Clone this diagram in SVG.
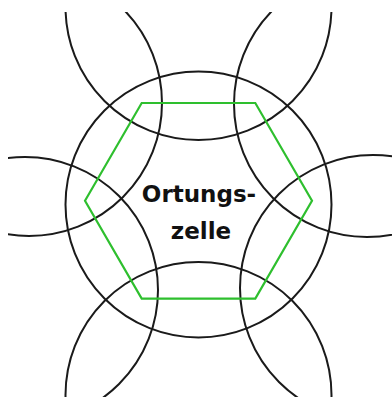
<svg xmlns="http://www.w3.org/2000/svg" width="392" height="397" viewBox="0 0 392 397">
  <defs>
    <clipPath id="frame"><rect x="8" y="12" width="384" height="385"/></clipPath>
    <style>
      .cell { fill: none; stroke: #1a1a1a; stroke-width: 2; }
      .hex { fill: none; stroke: #2ebf2e; stroke-width: 2.2; stroke-linejoin: miter; }
      .lbl { font-family: "DejaVu Sans", "Liberation Sans", sans-serif; font-weight: bold; font-size: 23px; fill: #111; text-anchor: middle; }
    </style>
  </defs>
  <rect width="392" height="397" fill="#fff"/>
  <g id="circles" clip-path="url(#frame)">
    <circle id="c-top" class="cell" cx="198.5" cy="7" r="133"/>
    <circle id="c-upper-left" class="cell" cx="29" cy="103" r="133"/>
    <circle id="c-upper-right" class="cell" cx="367" cy="104" r="133"/>
    <circle id="c-lower-left" class="cell" cx="25" cy="290" r="133"/>
    <circle id="c-lower-right" class="cell" cx="373" cy="288" r="133"/>
    <circle id="c-bottom" class="cell" cx="198.5" cy="395" r="133"/>
    <circle id="c-center" class="cell" cx="198.5" cy="204.5" r="133"/>
  </g>
  <g id="ortungszelle">
    <polygon class="hex" points="85,200.8 141.7,103 255.3,103 312,200.8 255.3,298.6 141.7,298.6"/>
    <text class="lbl" x="199" y="202">Ortungs-</text>
    <text class="lbl" x="201" y="239">zelle</text>
  </g>
</svg>
